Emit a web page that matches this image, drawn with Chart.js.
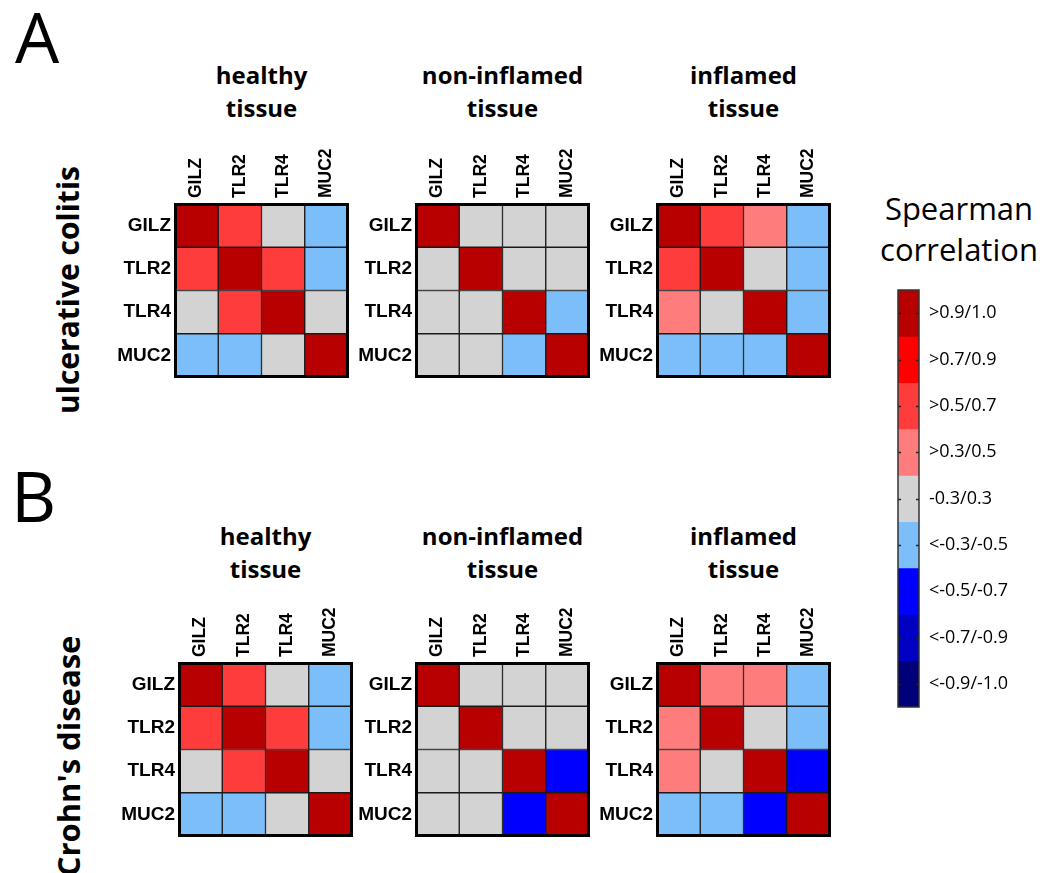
<!DOCTYPE html>
<html>
<head>
<meta charset="utf-8">
<script src="https://cdn.jsdelivr.net/npm/chart.js@4.4.0/dist/chart.umd.min.js"></script>
<style>
  html, body { margin: 0; padding: 0; background: #fff; }
  body { width: 1054px; height: 873px; position: relative; overflow: hidden; font-family: "Open Sans", sans-serif; color: #000; }
  .abs { position: absolute; }
  .panel-letter { font-size: 70px; line-height: 70px; }
  .title { font-weight: 700; font-size: 24px; line-height: 33px; text-align: center; width: 240px; }
  .side { font-weight: 700; font-size: 30px; line-height: 30px; white-space: nowrap; transform: translate(-50%, -50%) rotate(-90deg); }
  .legend-title { font-size: 31px; line-height: 41px; text-align: center; width: 200px; }
  canvas { position: absolute; }
</style>
</head>
<body>
<div class="abs panel-letter" style="left:15px; top:1px;">A</div>
<div class="abs panel-letter" style="left:11px; top:460px;">B</div>
<div class="abs side" style="left:68px; top:290px;">ulcerative colitis</div>
<div class="abs side" style="left:68px; top:756px; font-size:31px;">Crohn's disease</div>
<div class="abs legend-title" style="left:859px; top:188px;">Spearman<br>correlation</div>

<script>
// Genes shown on both axes of every matrix
const genes = ['GILZ', 'TLR2', 'TLR4', 'MUC2'];

// Spearman correlation matrices (rows/cols in gene order)
const ucHealthy = [
  [1.00, 0.62, 0.05, -0.42],
  [0.62, 1.00, 0.60, -0.40],
  [0.05, 0.60, 1.00, -0.12],
  [-0.42, -0.40, -0.12, 1.00]
];
const ucNonInflamed = [
  [1.00, 0.12, 0.08, -0.15],
  [0.12, 1.00, 0.20, -0.05],
  [0.08, 0.20, 1.00, -0.38],
  [-0.15, -0.05, -0.38, 1.00]
];
const ucInflamed = [
  [1.00, 0.58, 0.44, -0.36],
  [0.58, 1.00, 0.22, -0.41],
  [0.44, 0.22, 1.00, -0.39],
  [-0.36, -0.41, -0.39, 1.00]
];
const cdHealthy = [
  [1.00, 0.61, 0.10, -0.37],
  [0.61, 1.00, 0.57, -0.44],
  [0.10, 0.57, 1.00, -0.18],
  [-0.37, -0.44, -0.18, 1.00]
];
const cdNonInflamed = [
  [1.00, 0.15, 0.02, -0.10],
  [0.15, 1.00, 0.24, -0.21],
  [0.02, 0.24, 1.00, -0.56],
  [-0.10, -0.21, -0.56, 1.00]
];
const cdInflamed = [
  [1.00, 0.40, 0.35, -0.43],
  [0.40, 1.00, 0.18, -0.38],
  [0.35, 0.18, 1.00, -0.60],
  [-0.43, -0.38, -0.60, 1.00]
];

// Panel titles
const tissueTitles = [['healthy', 'tissue'], ['non-inflamed', 'tissue'], ['inflamed', 'tissue']];

// Colour scale bins, top to bottom
const binLabels = ['>0.9/1.0', '>0.7/0.9', '>0.5/0.7', '>0.3/0.5', '-0.3/0.3',
                   '<-0.3/-0.5', '<-0.5/-0.7', '<-0.7/-0.9', '<-0.9/-1.0'];
const binColors = ['#B80000', '#FF0000', '#FF3C3C', '#FF7C7C', '#D3D3D3',
                   '#7BBEFA', '#0000FF', '#0000C4', '#000078'];

function binIndex(v) {
  if (v > 0.9) return 0;
  if (v > 0.7) return 1;
  if (v > 0.5) return 2;
  if (v > 0.3) return 3;
  if (v >= -0.3) return 4;
  if (v >= -0.5) return 5;
  if (v >= -0.7) return 6;
  if (v >= -0.9) return 7;
  return 8;
}

const BOX = 173;     // matrix side length
const AX_W = 70;     // room for row labels
const AX_H = 62;     // room for rotated column labels
const PAD = 4;
const COL_FONT = 17.5;

// Thick outline around each matrix
const framePlugin = {
  id: 'matrixFrame',
  afterDatasetsDraw(chart) {
    const { ctx, chartArea: a } = chart;
    ctx.save();
    ctx.strokeStyle = '#000';
    ctx.lineWidth = 3;
    ctx.strokeRect(a.left + 0.5, a.top + 0.5, a.right - a.left - 1, a.bottom - a.top - 1);
    ctx.restore();
  }
};

const labelFont = '"Liberation Sans", Arial, sans-serif';

function noEdgePadding(s) {
  s.paddingTop = 0; s.paddingBottom = 0; s.paddingLeft = 0; s.paddingRight = 0;
}

function makeMatrix(matrix, boxLeft, boxTop) {
  const cv = document.createElement('canvas');
  cv.width = AX_W + BOX + PAD;
  cv.height = AX_H + BOX + PAD;
  cv.style.left = (boxLeft - AX_W) + 'px';
  cv.style.top = (boxTop - AX_H) + 'px';
  document.body.appendChild(cv);

  new Chart(cv, {
    type: 'bar',
    data: {
      labels: genes,
      datasets: matrix.map((row, i) => ({
        label: genes[i],
        data: genes.map(() => 1),
        backgroundColor: row.map(v => binColors[binIndex(v)]),
        borderColor: '#1a1a1a',
        borderWidth: 1,
        borderSkipped: false,
        barPercentage: 1,
        categoryPercentage: 1
      }))
    },
    options: {
      responsive: false,
      animation: false,
      events: [],
      layout: { padding: { top: 0, left: 0, right: PAD, bottom: PAD } },
      plugins: { legend: { display: false }, tooltip: { enabled: false } },
      scales: {
        x: {
          position: 'top',
          stacked: true,
          grid: { display: false, drawTicks: false },
          border: { display: false },
          ticks: {
            minRotation: 90, maxRotation: 90, padding: 6, color: '#000',
            // rotated labels on a top axis sit one line-height early; shift them back onto the column centre
            labelOffset: COL_FONT * 1.2,
            font: { family: labelFont, weight: 'bold', size: COL_FONT }
          },
          afterFit(s) { s.height = AX_H; noEdgePadding(s); }
        },
        y: {
          stacked: true,
          reverse: true,
          min: 0, max: genes.length,
          grid: { display: false, drawTicks: false },
          border: { display: false },
          afterBuildTicks(s) { s.ticks = genes.map((g, i) => ({ value: i + 0.5 })); },
          ticks: {
            padding: 4, color: '#000',
            font: { family: labelFont, weight: 'bold', size: 19 },
            callback: (v, i) => genes[i]
          },
          afterFit(s) { s.width = AX_W; noEdgePadding(s); }
        }
      }
    },
    plugins: [framePlugin]
  });
}

function addTitle(lines, centerX, top) {
  const d = document.createElement('div');
  d.className = 'abs title';
  d.style.left = (centerX - 120) + 'px';
  d.style.top = top + 'px';
  d.innerHTML = lines.join('<br>');
  document.body.appendChild(d);
}

const colLeft = [175, 416, 657];
const colLeftB = [179, 416, 657];
const rowTopA = 204, rowTopB = 663;

[ucHealthy, ucNonInflamed, ucInflamed].forEach((m, i) => {
  makeMatrix(m, colLeft[i], rowTopA);
  addTitle(tissueTitles[i], colLeft[i] + BOX / 2, 58);
});
[cdHealthy, cdNonInflamed, cdInflamed].forEach((m, i) => {
  makeMatrix(m, colLeftB[i], rowTopB);
  addTitle(tissueTitles[i], colLeftB[i] + BOX / 2, 519);
});

// Colour scale bar with its bin labels
const barLeft = 898, barTop = 290, barW = 21, barH = 417;
const scaleFrame = {
  id: 'scaleFrame',
  afterDatasetsDraw(chart) {
    const { ctx, chartArea: a } = chart;
    const y = chart.scales.y;
    ctx.save();
    ctx.strokeStyle = '#222';
    ctx.lineWidth = 1.5;
    binLabels.forEach((l, i) => {
      const py = Math.round(y.getPixelForValue(i + 0.5)) + 0.5;
      ctx.beginPath();
      ctx.moveTo(a.left, py); ctx.lineTo(a.left + 3, py);
      ctx.moveTo(a.right - 3, py); ctx.lineTo(a.right, py);
      ctx.stroke();
    });
    ctx.strokeStyle = '#333';
    ctx.lineWidth = 1.5;
    ctx.strokeRect(a.left, a.top, a.right - a.left, a.bottom - a.top);
    ctx.restore();
  }
};

const scv = document.createElement('canvas');
scv.width = PAD + barW + 130;
scv.height = PAD + barH + PAD;
scv.style.left = (barLeft - PAD) + 'px';
scv.style.top = (barTop - PAD) + 'px';
document.body.appendChild(scv);

new Chart(scv, {
  type: 'bar',
  data: {
    labels: [''],
    datasets: binLabels.map((l, i) => ({
      label: l,
      data: [1],
      backgroundColor: binColors[i],
      borderWidth: 0,
      barPercentage: 1,
      categoryPercentage: 1
    }))
  },
  options: {
    responsive: false,
    animation: false,
    events: [],
    layout: { padding: { top: PAD, left: PAD, bottom: PAD, right: 0 } },
    plugins: { legend: { display: false }, tooltip: { enabled: false } },
    scales: {
      x: { display: false, stacked: true },
      y: {
        position: 'right',
        stacked: true,
        reverse: true,
        min: 0, max: binLabels.length,
        grid: { display: false, drawTicks: false },
        border: { display: false },
        afterBuildTicks(s) { s.ticks = binLabels.map((l, i) => ({ value: i + 0.5 })); },
        ticks: {
          padding: 10, color: '#000',
          font: { family: '"Open Sans", sans-serif', size: 18 },
          callback: (v, i) => binLabels[i]
        },
        afterFit(s) { s.width = 130; noEdgePadding(s); }
      }
    }
  },
  plugins: [scaleFrame]
});
</script>
</body>
</html>
